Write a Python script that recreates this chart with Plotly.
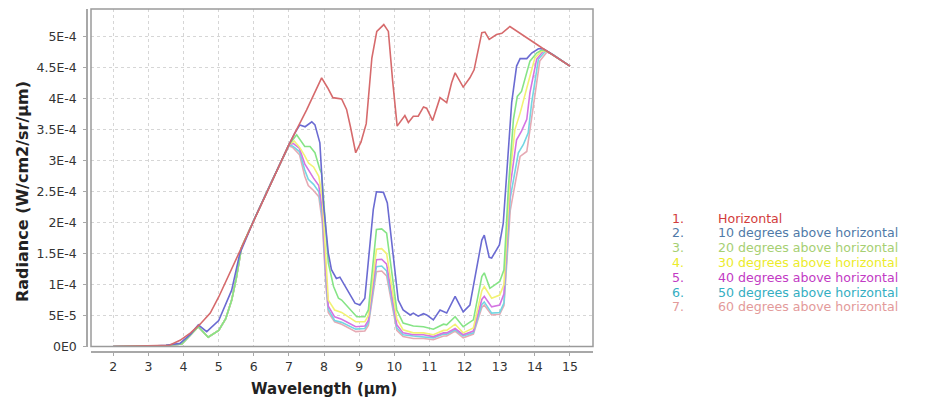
import plotly.graph_objects as go

# ---------------- data (radiance in units of 1E-4 W/cm2/sr/um) ----------------
wl_h = [2, 3, 3.6, 3.9, 4.2, 4.47, 4.76, 5.0, 5.5, 6, 6.5, 7, 7.5, 7.93, 8.1, 8.25, 8.5, 8.64,
        8.75, 8.9, 9.05, 9.2, 9.36, 9.5, 9.7, 9.83, 9.95, 10.08, 10.3, 10.4, 10.54, 10.68, 10.83,
        10.92, 11.09, 11.3, 11.49, 11.63, 11.73, 11.96, 12.15, 12.27, 12.49, 12.58, 12.7, 12.91,
        13.06, 13.29, 14.24, 15]
rad_h = [0, 0.005, 0.02, 0.1, 0.22, 0.36, 0.54, 0.8, 1.42, 2.04, 2.66, 3.26, 3.82, 4.34, 4.18,
         4.02, 4.0, 3.83, 3.55, 3.13, 3.3, 3.6, 4.66, 5.09, 5.2, 5.09, 4.3, 3.56, 3.73, 3.62, 3.72,
         3.72, 3.87, 3.85, 3.65, 4.02, 3.94, 4.26, 4.42, 4.19, 4.34, 4.47, 5.07, 5.08, 4.96, 5.04,
         5.06, 5.17, 4.81, 4.53]

wl_10 = [2, 3, 3.5, 3.9, 4.2, 4.42, 4.66, 5.0, 5.37, 5.6, 6, 6.5, 7, 7.17, 7.31, 7.46, 7.65, 7.74,
         7.88, 7.98, 8.12, 8.21, 8.35, 8.45, 8.88, 9.02, 9.16, 9.4, 9.49, 9.69, 9.8, 10.11, 10.25,
         10.45, 10.54, 10.68, 10.83, 10.92, 11.11, 11.3, 11.49, 11.73, 11.96, 12.15, 12.49, 12.56,
         12.7, 12.77, 12.99, 13.1, 13.2, 13.34, 13.48, 13.58, 13.77, 13.91, 14.1, 14.24, 14.4, 15]
rad_10 = [0, 0.005, 0.02, 0.05, 0.2, 0.35, 0.24, 0.42, 0.91, 1.5, 2.04, 2.66, 3.26, 3.45, 3.58,
          3.55, 3.63, 3.58, 3.29, 2.32, 1.51, 1.24, 1.10, 1.12, 0.70, 0.67, 0.78, 2.21, 2.5, 2.49,
          2.32, 0.75, 0.59, 0.51, 0.54, 0.49, 0.53, 0.51, 0.43, 0.59, 0.54, 0.81, 0.56, 0.67, 1.72,
          1.80, 1.44, 1.43, 1.64, 1.99, 2.86, 3.94, 4.53, 4.65, 4.65, 4.74, 4.81, 4.81, 4.755, 4.53]

wl_20 = [2, 3, 3.5, 3.95, 4.2, 4.42, 4.7, 5.0, 5.2, 5.37, 5.5, 5.65, 6, 6.5, 7, 7.22, 7.36, 7.45,
         7.6, 7.74, 7.88, 7.93, 8.12, 8.27, 8.41, 8.5, 8.93, 9.16, 9.26, 9.49, 9.64, 9.78, 10.07,
         10.25, 10.54, 10.83, 11.11, 11.4, 11.49, 11.73, 11.96, 12.25, 12.49, 12.56, 12.72, 13.0,
         13.12, 13.25, 13.39, 13.5, 13.62, 13.72, 13.86, 14.05, 14.19, 14.35, 15]
rad_20 = [0, 0.005, 0.015, 0.04, 0.18, 0.32, 0.15, 0.26, 0.45, 0.75, 1.1, 1.6, 2.04, 2.66, 3.26,
          3.42, 3.31, 3.23, 3.23, 3.13, 2.86, 2.8, 1.35, 0.97, 0.78, 0.75, 0.48, 0.48, 0.59, 1.89,
          1.90, 1.83, 0.59, 0.38, 0.33, 0.32, 0.28, 0.36, 0.35, 0.48, 0.32, 0.43, 1.13, 1.19, 0.94,
          1.05, 1.24, 2.6, 3.67, 4.04, 4.12, 4.31, 4.61, 4.74, 4.79, 4.77, 4.53]

wl_30 = [2, 3, 3.5, 3.95, 4.2, 4.42, 4.7, 5.0, 5.2, 5.37, 5.5, 5.65, 6, 6.5, 7.0, 7.15, 7.3, 7.45,
         7.56, 7.7, 7.85, 7.95, 8.05, 8.12, 8.3, 8.5, 8.9, 9.16, 9.26, 9.49, 9.64, 9.78, 10.07,
         10.25, 10.54, 10.83, 11.11, 11.4, 11.49, 11.73, 11.96, 12.25, 12.49, 12.56, 12.77, 13.0,
         13.12, 13.3, 13.43, 13.58, 13.81, 14.0, 14.2, 14.4, 15]
rad_30 = [0, 0.005, 0.015, 0.04, 0.18, 0.32, 0.15, 0.26, 0.45, 0.75, 1.1, 1.6, 2.04, 2.66, 3.26,
          3.32, 3.22, 3.08, 2.96, 2.9, 2.75, 2.4, 1.4, 0.75, 0.59, 0.55, 0.40, 0.40, 0.5, 1.57,
          1.58, 1.5, 0.45, 0.27, 0.22, 0.22, 0.19, 0.26, 0.26, 0.36, 0.22, 0.3, 0.9, 0.97, 0.78,
          0.83, 1.0, 2.8, 3.5, 3.77, 4.26, 4.66, 4.78, 4.755, 4.53]

wl_40 = [2, 3, 3.5, 3.95, 4.2, 4.42, 4.7, 5.0, 5.2, 5.37, 5.5, 5.65, 6, 6.5, 7.0, 7.12, 7.3, 7.45,
         7.55, 7.7, 7.85, 7.95, 8.05, 8.12, 8.3, 8.5, 8.9, 9.16, 9.26, 9.49, 9.64, 9.78, 10.07,
         10.25, 10.54, 10.83, 11.11, 11.4, 11.49, 11.73, 11.96, 12.25, 12.49, 12.56, 12.77, 13.0,
         13.12, 13.3, 13.48, 13.62, 13.77, 13.86, 14.05, 14.25, 14.45, 15]
rad_40 = [0, 0.005, 0.015, 0.04, 0.18, 0.32, 0.15, 0.26, 0.45, 0.75, 1.1, 1.6, 2.04, 2.66, 3.26,
          3.28, 3.2, 2.95, 2.85, 2.72, 2.6, 2.2, 1.2, 0.65, 0.48, 0.44, 0.32, 0.33, 0.42, 1.4,
          1.41, 1.33, 0.35, 0.22, 0.19, 0.19, 0.16, 0.22, 0.22, 0.29, 0.19, 0.25, 0.76, 0.81, 0.64,
          0.67, 0.85, 2.6, 3.34, 3.48, 3.67, 4.1, 4.64, 4.78, 4.735, 4.53]

wl_50 = [2, 3, 3.5, 3.95, 4.2, 4.42, 4.7, 5.0, 5.2, 5.37, 5.5, 5.65, 6, 6.5, 7.0, 7.1, 7.3, 7.45,
         7.55, 7.7, 7.85, 7.95, 8.05, 8.12, 8.3, 8.5, 8.9, 9.16, 9.26, 9.49, 9.64, 9.78, 10.07,
         10.25, 10.54, 10.83, 11.11, 11.4, 11.49, 11.73, 11.96, 12.25, 12.49, 12.56, 12.77, 13.0,
         13.12, 13.3, 13.53, 13.67, 13.81, 13.91, 14.1, 14.3, 14.5, 15]
rad_50 = [0, 0.005, 0.015, 0.04, 0.18, 0.32, 0.15, 0.26, 0.45, 0.75, 1.1, 1.6, 2.04, 2.66, 3.25,
          3.24, 3.15, 2.85, 2.7, 2.62, 2.5, 2.1, 1.1, 0.6, 0.42, 0.39, 0.28, 0.29, 0.38, 1.29,
          1.3, 1.22, 0.3, 0.19, 0.17, 0.16, 0.14, 0.2, 0.2, 0.27, 0.17, 0.22, 0.68, 0.72, 0.54,
          0.55, 0.7, 2.4, 3.13, 3.26, 3.45, 3.94, 4.64, 4.77, 4.72, 4.53]

wl_60 = [2, 3, 3.5, 3.95, 4.2, 4.42, 4.7, 5.0, 5.2, 5.37, 5.5, 5.65, 6, 6.5, 7.0, 7.1, 7.3, 7.45,
         7.55, 7.7, 7.85, 7.95, 8.05, 8.12, 8.3, 8.5, 8.9, 9.16, 9.26, 9.49, 9.64, 9.78, 10.07,
         10.25, 10.54, 10.83, 11.11, 11.4, 11.49, 11.73, 11.96, 12.25, 12.49, 12.56, 12.77, 13.0,
         13.12, 13.3, 13.58, 13.77, 13.86, 14.0, 14.14, 14.35, 14.55, 15]
rad_60 = [0, 0.005, 0.015, 0.04, 0.18, 0.32, 0.15, 0.26, 0.45, 0.75, 1.1, 1.6, 2.04, 2.66, 3.24,
          3.22, 3.1, 2.75, 2.6, 2.52, 2.42, 2.0, 1.0, 0.55, 0.4, 0.36, 0.24, 0.25, 0.34, 1.21,
          1.22, 1.14, 0.26, 0.16, 0.13, 0.13, 0.11, 0.17, 0.17, 0.25, 0.14, 0.2, 0.63, 0.67, 0.51,
          0.52, 0.66, 2.2, 3.07, 3.15, 3.5, 4.1, 4.61, 4.76, 4.70, 4.53]

series_names = ["Horizontal", "10 degrees above horizontal", "20 degrees above horizontal",
                "30 degrees above horizontal", "40 degrees above horizontal",
                "50 degrees above horizontal", "60 degrees above horizontal"]
series_x = [wl_h, wl_10, wl_20, wl_30, wl_40, wl_50, wl_60]
series_y = [rad_h, rad_10, rad_20, rad_30, rad_40, rad_50, rad_60]
line_colors = ["#d66a6c", "#6b6bd2", "#86e486", "#f2f274", "#d474e2", "#74d6e2", "#e6aab4"]
text_colors = ["#d23c3c", "#4f7aa8", "#a6cf72", "#ecec2c", "#c23ac4", "#34aec2", "#e39a9a"]

x_ticks = list(range(2, 16))
y_tickvals = [0, 0.5, 1, 1.5, 2, 2.5, 3, 3.5, 4, 4.5, 5]
y_ticktext = ["0E0", "5E-5", "1E-4", "1.5E-4", "2E-4", "2.5E-4", "3E-4", "3.5E-4", "4E-4",
              "4.5E-4", "5E-4"]

# ---------------- layout geometry (pixels) ----------------
W, H = 925, 401
ML, MR, MT, MB = 87, 332, 9, 49
PW, PH = W - ML - MR, H - MT - MB


def px(xp):
    return (xp - ML) / PW


def py(yp):
    return (H - MB - yp) / PH


fig = go.Figure()
order = [6, 5, 4, 3, 2, 1, 0]
for i in order:
    fig.add_trace(go.Scatter(
        x=series_x[i], y=[v * 1e-4 for v in series_y[i]], mode="lines", name=series_names[i],
        line=dict(color=line_colors[i], width=1.6), hoverinfo="x+y+name"))

axis_common = dict(
    showline=True, linecolor="#a8a8a8", linewidth=1.5,
    ticks="outside", ticklen=3, tickcolor="#a8a8a8", tickwidth=1,
    showgrid=True, gridcolor="#d6d6d6", gridwidth=1, griddash="3px,3px",
    zeroline=False, tickfont=dict(family="DejaVu Sans", size=12.5, color="#333333"),
)

fig.update_layout(
    width=W, height=H,
    margin=dict(l=ML, r=MR, t=MT, b=MB, pad=0),
    paper_bgcolor="white", plot_bgcolor="white",
    showlegend=False,
    xaxis=dict(domain=[px(91), 1], range=[1.365, 15.655], anchor="free", position=0,
               tickvals=x_ticks, ticktext=[str(t) for t in x_ticks], **axis_common),
    yaxis=dict(domain=[py(346.5), 1], range=[0, 5.452e-4], anchor="free", position=0,
               tickvals=[v * 1e-4 for v in y_tickvals], ticktext=y_ticktext,
               ticklabelstandoff=4, **axis_common),
)

# plot border
fig.add_shape(type="rect", xref="x domain", yref="y domain", x0=0, x1=1, y0=0, y1=1,
              line=dict(color="#9a9a9a", width=1.5), layer="above")

# axis titles
fig.add_annotation(text="<b>Wavelength (μm)</b>", xref="paper", yref="paper",
                   x=px(324), y=py(389), xanchor="center", yanchor="middle", showarrow=False,
                   font=dict(family="DejaVu Sans", size=15, color="#222222"))
fig.add_annotation(text="<b>Radiance (W/cm2/sr/μm)</b>", xref="paper", yref="paper",
                   x=px(22), y=py(192), xanchor="center", yanchor="middle", showarrow=False,
                   textangle=-90, font=dict(family="DejaVu Sans", size=16, color="#222222"))

# numbered legend
row_y = [218, 232.8, 247.6, 262.4, 277.2, 292, 306.8]
for i, name in enumerate(series_names):
    fig.add_annotation(text=f"{i + 1}.", xref="paper", yref="paper", x=px(671), y=py(row_y[i]),
                       xanchor="left", yanchor="middle", showarrow=False, borderpad=0,
                       font=dict(family="DejaVu Sans", size=12.6, color=text_colors[i]))
    fig.add_annotation(text=name, xref="paper", yref="paper", x=px(717), y=py(row_y[i]),
                       xanchor="left", yanchor="middle", showarrow=False, borderpad=0,
                       font=dict(family="DejaVu Sans", size=12.6, color=text_colors[i]))

fig.write_html("out.html")
